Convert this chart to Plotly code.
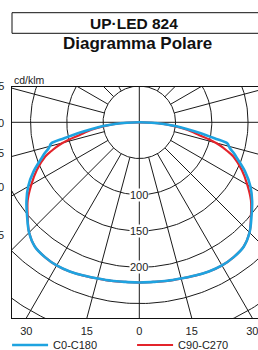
import math
import plotly.graph_objects as go

# ---------------- data (cd/klm) ----------------
angles_c0 = [0, 5, 10, 15, 20, 25, 30, 35, 40, 45, 50, 55, 60, 65, 70, 72, 74, 75, 76.5, 78, 80, 82, 84, 86, 88, 90]
c0_vals   = [221, 221, 222, 223, 225, 227, 228, 227, 224, 215, 202, 190, 177, 161, 143, 137, 130, 128, 125, 106, 85, 66, 50, 34, 17, 0]
c180_vals = [221, 221, 222, 223, 225, 227, 228, 227, 224, 215, 202, 190, 177, 161, 143, 137, 130, 128, 125, 106, 85, 66, 50, 34, 17, 0]

angles_c90 = [0, 5, 10, 15, 20, 25, 30, 35, 40, 45, 50, 55, 60, 65, 70, 72, 74, 76, 78, 80, 82, 84, 86, 88, 90]
c90_vals   = [221, 221, 222, 223, 225, 227, 228, 227, 224, 215, 201, 188, 172, 156, 138, 127, 116, 101, 84, 73, 61, 47, 33, 17, 0]
c270_vals  = [221, 221, 222, 223, 225, 227, 228, 227, 224, 215, 201, 188, 172, 156, 138, 127, 116, 101, 84, 73, 61, 47, 33, 17, 0]

ring_values = [50, 100, 150, 200, 250, 300, 350, 400]
ring_labels = [100, 150, 200]
spoke_step = 15
bottom_tick_angles = [-30, -15, 0, 15, 30]
left_labels = ["105", "90", "75", "60", "45"]
left_label_px = [86, 122.5, 153, 186.5, 235]

series_names = ["C0-C180", "C90-C270"]
BLUE = "#1ea3e0"
RED = "#e3242b"
GRID = "#1a1a1a"

# ---------------- geometry of the page ----------------
W, H = 258, 350
ML, MR, MT, MB = 12, 0, 87, 32
S = 0.725             # px per cd/klm
CX, CY = 139.3, 122.3  # centre of diagram in page px
PW, PH = W - ML - MR, H - MT - MB
x_range = [(ML - CX) / S, (W - MR - CX) / S]
y_range = [-(H - MB - CY) / S, (CY - MT) / S]


def polar_xy(theta_deg, r, side):
    t = math.radians(theta_deg)
    return side * r * math.sin(t), -r * math.cos(t)


def curve(angles_right, vals_right, angles_left, vals_left):
    xs, ys = [], []
    for a, v in zip(reversed(angles_left), reversed(vals_left)):
        x, y = polar_xy(a, v, -1)
        xs.append(x); ys.append(y)
    for a, v in zip(angles_right, vals_right):
        x, y = polar_xy(a, v, 1)
        xs.append(x); ys.append(y)
    return xs, ys


fig = go.Figure()

# grid circles
for rv in ring_values:
    n = 361
    fig.add_trace(go.Scatter(
        x=[rv * math.cos(2 * math.pi * i / (n - 1)) for i in range(n)],
        y=[rv * math.sin(2 * math.pi * i / (n - 1)) for i in range(n)],
        mode="lines", line=dict(color=GRID, width=1), hoverinfo="skip", showlegend=False))

# grid spokes
for a in range(0, 360, spoke_step):
    r0 = 0 if a % 90 == 0 else ring_values[0]
    t = math.radians(a)
    fig.add_trace(go.Scatter(
        x=[r0 * math.sin(t), 700 * math.sin(t)],
        y=[-r0 * math.cos(t), -700 * math.cos(t)],
        mode="lines", line=dict(color=GRID, width=1), hoverinfo="skip", showlegend=False))

# curves
rx, ry = curve(angles_c90, c90_vals, angles_c90, c270_vals)
bx, by = curve(angles_c0, c0_vals, angles_c0, c180_vals)
fig.add_trace(go.Scatter(x=rx, y=ry, mode="lines", name=series_names[1], legendrank=2,
                         line=dict(color=RED, width=2.2, shape="spline", smoothing=1.0)))
fig.add_trace(go.Scatter(x=bx, y=by, mode="lines", name=series_names[0], legendrank=1,
                         line=dict(color=BLUE, width=2.6, shape="spline", smoothing=1.0)))

FONT = "Liberation Sans, Arial, Helvetica, sans-serif"

annotations = []
for v in ring_labels:
    annotations.append(dict(x=0, y=-v, xref="x", yref="y", text=str(v), showarrow=False,
                            bgcolor="white", borderpad=0, font=dict(size=11, color="#222", family=FONT)))

for txt, ypx in zip(left_labels, left_label_px):
    annotations.append(dict(x=(5.5 - ML) / PW, y=(H - MB - ypx) / PH, xref="paper", yref="paper",
                            xanchor="right", yanchor="middle", text=txt, showarrow=False,
                            font=dict(size=11, color="#222", family=FONT)))

annotations.append(dict(x=(133.5 - ML) / PW, y=(H - MB - 23) / PH, xref="paper", yref="paper",
                        text="<b>UP·LED 824</b>", showarrow=False, xanchor="center", yanchor="middle",
                        font=dict(size=15.5, color="#111", family=FONT)))
annotations.append(dict(x=(137 - ML) / PW, y=(H - MB - 44) / PH, xref="paper", yref="paper",
                        text="<b>Diagramma Polare</b>", showarrow=False, xanchor="center", yanchor="middle",
                        font=dict(size=17, color="#111", family=FONT)))
annotations.append(dict(x=0, y=(H - MB - 80) / PH, xref="paper", yref="paper", xanchor="left",
                        yanchor="middle", text="cd/klm", showarrow=False,
                        font=dict(size=10.5, color="#222", family=FONT)))

shapes = [dict(type="rect", xref="paper", yref="paper",
               x0=0, x1=(W + 10 - ML) / PW,
               y0=(H - MB - 33.3) / PH, y1=(H - MB - 12.7) / PH,
               line=dict(color="#111", width=1), fillcolor="rgba(0,0,0,0)")]

bottom_y = y_range[0]
tickvals = [-bottom_y * math.tan(math.radians(a)) for a in bottom_tick_angles]
ticktext = [str(abs(a)) for a in bottom_tick_angles]

fig.update_layout(
    width=W, height=H,
    margin=dict(l=ML, r=MR, t=MT, b=MB, autoexpand=False),
    paper_bgcolor="white", plot_bgcolor="white",
    showlegend=True,
    legend=dict(orientation="h", x=-0.02, xanchor="left", y=(H - MB - 345) / PH, yanchor="middle",
                font=dict(size=11, color="#222", family=FONT), entrywidth=74, entrywidthmode="pixels",
                bgcolor="rgba(0,0,0,0)", itemwidth=36),
    annotations=annotations,
    shapes=shapes,
    xaxis=dict(range=x_range, showgrid=False, zeroline=False, showline=True, linecolor="#111",
               linewidth=1, mirror=True, tickvals=tickvals, ticktext=ticktext, ticks="",
               ticklabelstandoff=3, ticklabeloverflow="allow",
               tickfont=dict(size=11, color="#222", family=FONT), fixedrange=True),
    yaxis=dict(range=y_range, showgrid=False, zeroline=False, showline=True, linecolor="#111",
               linewidth=1, mirror=False, showticklabels=False, ticks="", fixedrange=True),
)

fig.write_html("out.html", config={"displayModeBar": False},
               post_script="document.body.style.margin='0px';document.body.style.overflow='hidden';")
